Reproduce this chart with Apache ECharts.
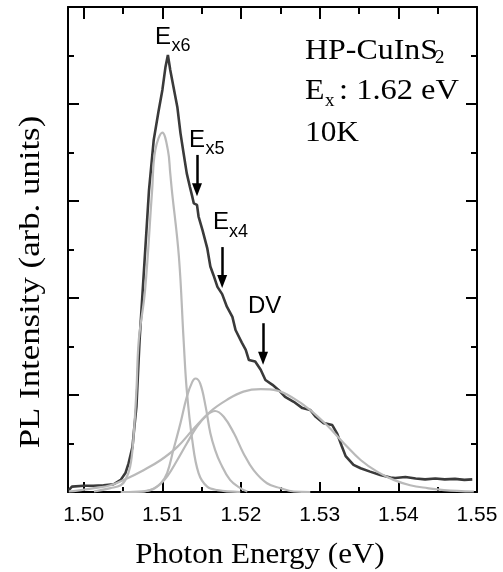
<!DOCTYPE html>
<html>
<head>
<meta charset="utf-8">
<script src="https://cdn.jsdelivr.net/npm/echarts@6/dist/echarts.min.js"></script>
<style>
  html, body { margin: 0; padding: 0; background: #fff; }
  #chart { width: 503px; height: 572px; }
</style>
</head>
<body>
<div id="chart"></div>
<script>
// [photon energy (eV), PL intensity]
var measured = [
  [1.4981, 0.04], [1.4985, 0.11], [1.5000, 0.13], [1.5012, 0.13], [1.5025, 0.14],
  [1.5038, 0.16], [1.5047, 0.25], [1.5053, 0.39], [1.5057, 0.59], [1.5062, 0.93],
  [1.5064, 1.28], [1.5067, 1.76], [1.5069, 2.45], [1.5071, 3.13], [1.5083, 6.23],
  [1.5089, 7.26], [1.5095, 7.84], [1.5100, 8.29], [1.5104, 8.77], [1.5107, 9.01],
  [1.5110, 8.70], [1.5114, 8.36], [1.5119, 7.94], [1.5123, 7.40], [1.5127, 6.98],
  [1.5131, 6.57], [1.5135, 6.29], [1.5138, 6.09], [1.5140, 5.95], [1.5144, 5.92],
  [1.5146, 5.68], [1.5151, 5.40], [1.5157, 5.03], [1.5161, 4.65], [1.5165, 4.47],
  [1.5170, 4.23], [1.5176, 4.08], [1.5182, 3.82], [1.5189, 3.61], [1.5193, 3.34],
  [1.5201, 3.08], [1.5206, 2.93], [1.5210, 2.72], [1.5218, 2.69], [1.5225, 2.52],
  [1.5231, 2.31], [1.5240, 2.21], [1.5248, 2.10], [1.5256, 1.96], [1.5267, 1.86],
  [1.5278, 1.73], [1.5288, 1.69], [1.5295, 1.55], [1.5305, 1.42], [1.5316, 1.38],
  [1.5322, 1.21], [1.5328, 0.95], [1.5333, 0.74], [1.5343, 0.56], [1.5352, 0.49],
  [1.5364, 0.42], [1.5377, 0.35], [1.5390, 0.30], [1.5396, 0.29], [1.5409, 0.31],
  [1.5422, 0.28], [1.5434, 0.26], [1.5447, 0.28], [1.5459, 0.26], [1.5472, 0.27],
  [1.5484, 0.25], [1.5494, 0.26]
]

// fitted components
var fitEx6 = [
  [1.5013, 0.01], [1.5034, 0.08], [1.5047, 0.14], [1.5053, 0.25], [1.5059, 0.52],
  [1.5063, 1.07], [1.5067, 2.10], [1.5070, 3.13], [1.5078, 4.16], [1.5087, 6.23],
  [1.5091, 7.05], [1.5100, 7.41], [1.5107, 7.05], [1.5110, 6.57], [1.5112, 6.23],
  [1.5121, 4.85], [1.5127, 3.13], [1.5131, 2.10], [1.5138, 1.07], [1.5146, 0.39],
  [1.5157, 0.11], [1.5170, 0.04], [1.5199, 0.0]
]
var fitEx5 = [
  [1.5059, 0.0], [1.5085, 0.04], [1.5098, 0.18], [1.5106, 0.39], [1.5114, 0.87],
  [1.5123, 1.42], [1.5131, 1.96], [1.5138, 2.27], [1.5142, 2.34], [1.5148, 2.24],
  [1.5155, 1.76], [1.5161, 1.21], [1.5167, 0.87], [1.5174, 0.59], [1.5186, 0.25],
  [1.5199, 0.08], [1.5208, 0.01]
]
var fitEx4 = [
  [1.5047, 0.0], [1.5076, 0.01], [1.5093, 0.11], [1.5106, 0.32], [1.5119, 0.66],
  [1.5131, 1.00], [1.5144, 1.35], [1.5157, 1.59], [1.5167, 1.67], [1.5178, 1.55],
  [1.5191, 1.21], [1.5203, 0.80], [1.5216, 0.45], [1.5233, 0.18], [1.5250, 0.08],
  [1.5267, 0.01], [1.5288, 0.0]
]
var fitDV = [
  [1.4981, 0.01], [1.4992, 0.03], [1.5013, 0.08], [1.5034, 0.14], [1.5055, 0.28],
  [1.5076, 0.45], [1.5098, 0.66], [1.5119, 0.93], [1.5140, 1.31], [1.5161, 1.66],
  [1.5182, 1.90], [1.5203, 2.07], [1.5225, 2.12], [1.5246, 2.09], [1.5267, 1.93],
  [1.5288, 1.69], [1.5309, 1.38], [1.5331, 1.00], [1.5352, 0.66], [1.5373, 0.42],
  [1.5394, 0.25], [1.5415, 0.14], [1.5437, 0.08], [1.5458, 0.04], [1.5496, 0.01]
]

var majorTicks = [1.50, 1.51, 1.52, 1.53, 1.54, 1.55]
var minorTicks = [1.505, 1.515, 1.525, 1.535, 1.545]

// arrows: [energy, from, to]
var arrows = [
  [1.5144, 6.95, 6.23],
  [1.5176, 5.05, 4.34],
  [1.5228, 3.48, 2.76]
]

var SANS = 'Liberation Sans, Arial, sans-serif'
var SERIF = 'Liberation Serif, Times New Roman, serif'
var GRID_BOX = { left: 68, right: 26, top: 7, bottom: 80, outerBoundsMode: 'none' }

// four stacked grids with the same box: one axis pair each (bottom/left, top/right, minor ticks)
function xAxisOf(grid, position, ticks, len, withLine, withLabel) {
  return {
    gridIndex: grid,
    type: 'value',
    position: position,
    min: 1.498,
    max: 1.55,
    axisLine: { show: withLine, onZero: false, lineStyle: { color: '#000', width: 2 }},
    splitLine: { show: false },
    axisTick: {
      inside: true,
      length: len,
      customValues: ticks,
      lineStyle: { color: '#000', width: 2 }
    },
    axisLabel: {
      show: withLabel,
      customValues: ticks,
      formatter: function(v) { return v.toFixed(2) },
      color: '#000',
      fontFamily: SANS,
      fontSize: 21,
      margin: 13,
      showMaxLabel: true,
      hideOverlap: false
    }
  }
}

function yAxisOf(grid, position, visible) {
  return {
    gridIndex: grid,
    show: visible,
    type: 'value',
    position: position,
    min: 0,
    max: 10,
    interval: 2,
    axisLine: { show: true, onZero: false, lineStyle: { color: '#000', width: 2 }},
    splitLine: { show: false },
    axisTick: { inside: true, length: 11, lineStyle: { color: '#000', width: 2 }},
    minorTick: { show: true, splitNumber: 2, length: 6, lineStyle: { color: '#000', width: 2 }},
    axisLabel: { show: false }
  }
}

function fitSeries(name, data, idx) {
  return {
    name: name,
    type: 'line',
    data: data,
    xAxisIndex: idx,
    yAxisIndex: idx,
    showSymbol: false,
    smooth: 0.4,
    silent: true,
    lineStyle: { color: '#b9b9b9', width: 2.2 },
    z: 3
  }
}

function textEl(text, x, y, font, size, sx) {
  return {
    type: 'text',
    x: x,
    y: y,
    scaleX: sx || 1,
    silent: true,
    style: {
      text: text,
      fill: '#000',
      font: size + 'px ' + font,
      textAlign: 'left',
      textVerticalAlign: 'middle'
    }
  }
}

var chart = echarts.init(document.getElementById('chart'))
chart.setOption({
  animation: false,
  backgroundColor: '#fff',
  grid: [GRID_BOX, GRID_BOX, GRID_BOX, GRID_BOX],
  xAxis: [
    xAxisOf(0, 'bottom', majorTicks, 10, true, true),
    xAxisOf(1, 'top', majorTicks, 12, true, false),
    xAxisOf(2, 'bottom', minorTicks, 5, false, false),
    xAxisOf(3, 'top', minorTicks, 7, false, false)
  ],
  yAxis: [
    yAxisOf(0, 'left', true),
    yAxisOf(1, 'right', true),
    yAxisOf(2, 'left', false),
    yAxisOf(3, 'right', false)
  ],
  series: [
    {
      name: 'PL',
      type: 'line',
      data: measured,
      xAxisIndex: 0,
      yAxisIndex: 0,
      showSymbol: false,
      silent: true,
      lineStyle: { color: '#3a3a3a', width: 2.6 },
      z: 2,
      markLine: {
        silent: true,
        symbol: ['none', 'triangle'],
        symbolSize: [10, 13],
        label: { show: false },
        lineStyle: { color: '#000', width: 2.5, type: 'solid' },
        data: arrows.map(function(a) {
          return [{ coord: [a[0], a[1]] }, { coord: [a[0], a[2]] }]
        })
      }
    },
    fitSeries('Ex6', fitEx6, 1),
    fitSeries('Ex5', fitEx5, 2),
    fitSeries('Ex4', fitEx4, 3),
    fitSeries('DV', fitDV, 0)
  ],
  graphic: [
    textEl('E', 155, 37, SANS, 24),
    textEl('x6', 171.5, 46, SANS, 18),
    textEl('E', 189, 140, SANS, 24),
    textEl('x5', 205.5, 149, SANS, 18),
    textEl('E', 213, 222.5, SANS, 24),
    textEl('x4', 229, 232, SANS, 18),
    textEl('DV', 248, 306, SANS, 24),
    textEl('HP-CuInS', 305, 51, SERIF, 29, 1.1),
    textEl('2', 435, 58, SERIF, 19),
    textEl('E', 305, 91, SERIF, 29, 1.1),
    textEl('x', 325, 101, SERIF, 19),
    textEl(': 1.62 eV', 339, 91, SERIF, 29, 1.12),
    textEl('10K', 305, 133, SERIF, 29, 1.08),
    {
      type: 'text',
      x: 31,
      y: 282,
      rotation: Math.PI / 2,
      scaleX: 1.2,
      silent: true,
      style: {
        text: 'PL Intensity (arb. units)',
        fill: '#000',
        font: '29px ' + SERIF,
        textAlign: 'center',
        textVerticalAlign: 'middle'
      }
    },
    {
      type: 'text',
      x: 260,
      y: 555,
      scaleX: 1.07,
      silent: true,
      style: {
        text: 'Photon Energy (eV)',
        fill: '#000',
        font: '29px ' + SERIF,
        textAlign: 'center',
        textVerticalAlign: 'middle'
      }
    }
  ]
})
</script>
</body>
</html>
